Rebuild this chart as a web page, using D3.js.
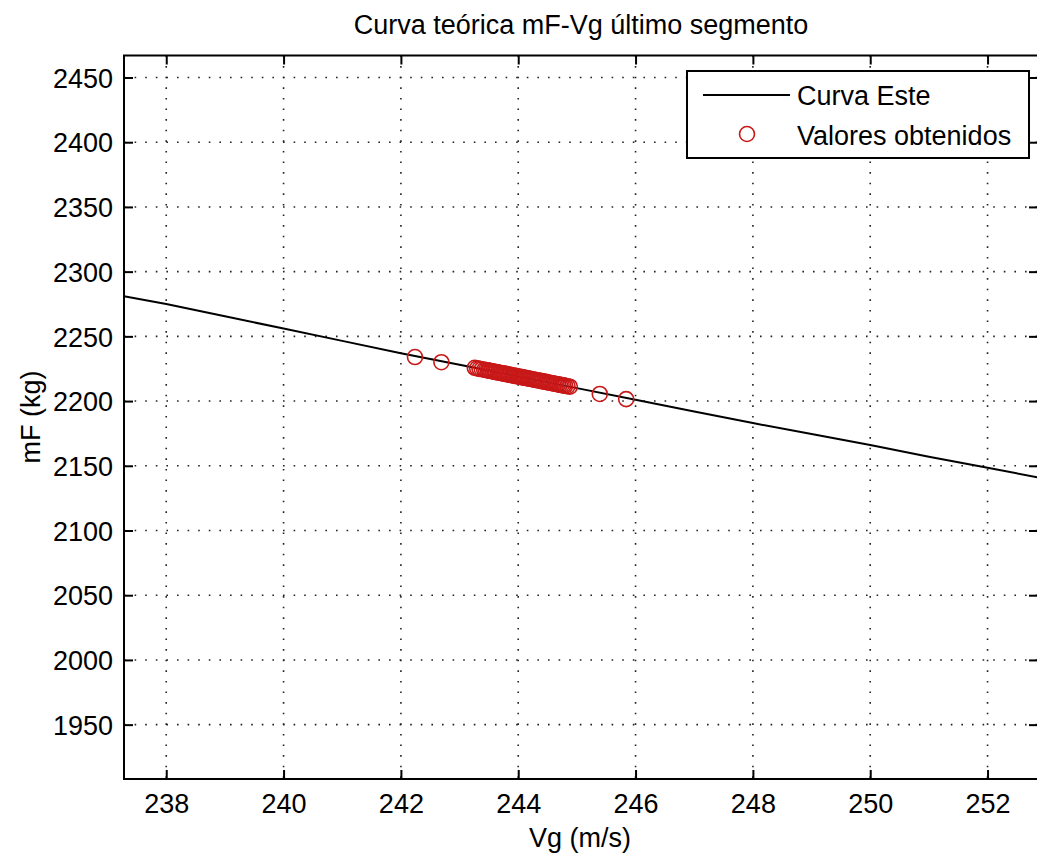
<!DOCTYPE html>
<html>
<head>
<meta charset="utf-8">
<script src="https://cdn.jsdelivr.net/npm/d3@7"></script>
<style>
  body { margin: 0; background: #fff; }
  svg text { font-family: "Liberation Sans", Arial, sans-serif; font-size: 27px; fill: #000; }
</style>
</head>
<body>
<svg id="chart" width="1037" height="857"></svg>
<script>
// curva teorica
var curveVg = [237.28, 238, 239, 240, 241, 242, 243, 244, 245, 246, 247, 248, 249, 250, 251, 252, 252.86];
var curveMf = [2281, 2275, 2265.5, 2256, 2246.5, 2237, 2228, 2219, 2210, 2201, 2192, 2183, 2174.5, 2166, 2157, 2148.5, 2141];

// valores obtenidos
var pointsVg = [242.24, 242.69,
  243.26, 243.30, 243.34, 243.38, 243.42, 243.45, 243.48, 243.51, 243.54, 243.57,
  243.60, 243.62, 243.65, 243.68, 243.70, 243.73, 243.76, 243.78, 243.81, 243.84,
  243.86, 243.89, 243.92, 243.94, 243.97, 244.00, 244.03, 244.06, 244.08, 244.11,
  244.14, 244.17, 244.20, 244.23, 244.26, 244.29, 244.32, 244.35, 244.38, 244.41,
  244.44, 244.47, 244.50, 244.53, 244.56, 244.59, 244.62, 244.65, 244.68, 244.71,
  244.74, 244.77, 244.80, 244.84, 244.88,
  245.39, 245.84];
var pointsMf = [2234.0, 2230.0,
  2225.7, 2225.3, 2224.9, 2224.6, 2224.2, 2224.0, 2223.7, 2223.4, 2223.1, 2222.9,
  2222.6, 2222.4, 2222.2, 2221.9, 2221.7, 2221.4, 2221.2, 2221.0, 2220.7, 2220.4,
  2220.3, 2220.0, 2219.7, 2219.5, 2219.3, 2219.0, 2218.7, 2218.5, 2218.3, 2218.0,
  2217.7, 2217.5, 2217.2, 2216.9, 2216.7, 2216.4, 2216.1, 2215.9, 2215.6, 2215.3,
  2215.0, 2214.8, 2214.5, 2214.2, 2214.0, 2213.7, 2213.4, 2213.2, 2212.9, 2212.6,
  2212.3, 2212.1, 2211.8, 2211.4, 2211.1,
  2205.5, 2201.5];

var xTicks = [238, 240, 242, 244, 246, 248, 250, 252];
var yTicks = [1950, 2000, 2050, 2100, 2150, 2200, 2250, 2300, 2350, 2400, 2450];

var seriesNames = ["Curva Este", "Valores obtenidos"];

var plotLeft = 124, plotRight = 1038, plotTop = 55.5, plotBottom = 779;
var tickLen = 9;
var markerColor = "#c81818";

var svg = d3.select("#chart");

var x = d3.scaleLinear().domain([237.28, 252.86]).range([plotLeft, plotRight]);
var y = d3.scaleLinear().domain([1908, 2467]).range([plotBottom, plotTop]);

// rejilla punteada
var grid = svg.append("g");
grid.selectAll(".gx")
    .data(xTicks)
    .enter()
    .append("line")
    .attr("x1", d => x(d)).attr("x2", d => x(d))
    .attr("y1", plotTop).attr("y2", plotBottom)
    .attr("stroke", "#222")
    .attr("stroke-width", 1.6)
    .attr("stroke-dasharray", "1.6,9");
grid.selectAll(".gy")
    .data(yTicks)
    .enter()
    .append("line")
    .attr("x1", plotLeft).attr("x2", plotRight)
    .attr("y1", d => y(d)).attr("y2", d => y(d))
    .attr("stroke", "#222")
    .attr("stroke-width", 1.6)
    .attr("stroke-dasharray", "1.6,9");

// curva
var line = d3.line()
    .x(d => x(d[0]))
    .y(d => y(d[1]));
svg.append("path")
    .datum(d3.zip(curveVg, curveMf))
    .attr("d", line)
    .attr("fill", "none")
    .attr("stroke", "#000")
    .attr("stroke-width", 2);

// puntos
svg.append("g")
    .selectAll("circle")
    .data(d3.zip(pointsVg, pointsMf))
    .enter()
    .append("circle")
    .attr("cx", d => x(d[0]))
    .attr("cy", d => y(d[1]))
    .attr("r", 7.5)
    .attr("fill", "none")
    .attr("stroke", markerColor)
    .attr("stroke-width", 1.6);

// ejes
var axisBottom = d3.axisBottom(x).tickValues(xTicks).tickSizeInner(-tickLen).tickSizeOuter(0).tickFormat(d3.format("d"));
var gx = svg.append("g").attr("transform", `translate(0,${plotBottom})`).call(axisBottom);
gx.selectAll("text").attr("y", 34).attr("dy", null);

var axisLeft = d3.axisLeft(y).tickValues(yTicks).tickSizeInner(-tickLen).tickSizeOuter(0).tickFormat(d3.format("d"));
var gy = svg.append("g").attr("transform", `translate(${plotLeft},0)`).call(axisLeft);
gy.selectAll("text").attr("x", -11).attr("dy", "0.36em");

var axisTop = d3.axisTop(x).tickValues(xTicks).tickSizeInner(-tickLen).tickSizeOuter(0).tickFormat("");
svg.append("g").attr("transform", `translate(0,${plotTop})`).call(axisTop);

var axisRight = d3.axisRight(y).tickValues(yTicks).tickSizeInner(-tickLen).tickSizeOuter(0).tickFormat("");
svg.append("g").attr("transform", `translate(${plotRight},0)`).call(axisRight);

svg.selectAll(".domain").remove();
svg.selectAll(".tick line").attr("stroke", "#000").attr("stroke-width", 2);
svg.selectAll(".tick text").style("font-size", "27px").attr("fill", "#000");

// marco
svg.append("rect")
    .attr("x", plotLeft).attr("y", plotTop)
    .attr("width", plotRight - plotLeft).attr("height", plotBottom - plotTop)
    .attr("fill", "none")
    .attr("stroke", "#000")
    .attr("stroke-width", 2);

// textos
svg.append("text")
    .attr("x", 581).attr("y", 34)
    .attr("text-anchor", "middle")
    .text("Curva teórica mF-Vg último segmento");

svg.append("text")
    .attr("x", 580).attr("y", 847)
    .attr("text-anchor", "middle")
    .text("Vg (m/s)");

svg.append("text")
    .attr("transform", "translate(40,417) rotate(-90)")
    .attr("text-anchor", "middle")
    .text("mF (kg)");

// leyenda
var legend = svg.append("g");
legend.append("rect")
    .attr("x", 687).attr("y", 71)
    .attr("width", 342).attr("height", 87)
    .attr("fill", "#fff")
    .attr("stroke", "#000")
    .attr("stroke-width", 2);
legend.append("line")
    .attr("x1", 703).attr("x2", 790)
    .attr("y1", 95).attr("y2", 95)
    .attr("stroke", "#000")
    .attr("stroke-width", 2);
legend.append("circle")
    .attr("cx", 747).attr("cy", 134)
    .attr("r", 7.5)
    .attr("fill", "none")
    .attr("stroke", markerColor)
    .attr("stroke-width", 1.6);
legend.selectAll(".ltext")
    .data(seriesNames)
    .enter()
    .append("text")
    .attr("x", 797)
    .attr("y", (d, i) => 105 + i * 40)
    .text(d => d);
</script>
</body>
</html>
